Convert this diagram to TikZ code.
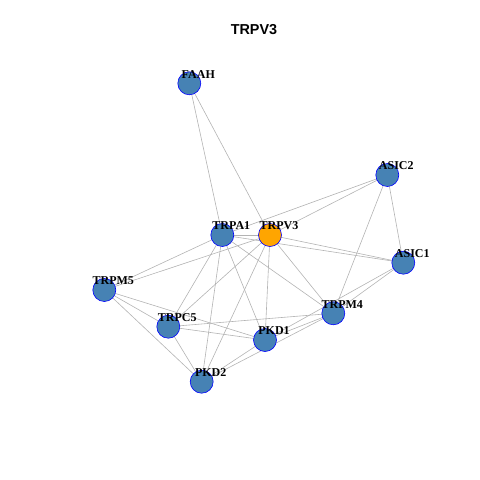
\documentclass[tikz,border=0pt]{standalone}
\usepackage{fontspec}
\setmainfont{Liberation Serif}
\newfontfamily\titlefont{Liberation Sans}
\usetikzlibrary{backgrounds}
\tikzset{
  vtx/.style={circle, draw=blue, line width=0.6pt, fill=steel, minimum size=23pt, inner sep=0pt},
  hub/.style={vtx, fill=hubor},
  lbl/.style={font=\fontsize{12}{12}\selectfont\bfseries, inner sep=0pt, text=black},
  edge/.style={draw=edgegray, line width=0.6pt}
}
\definecolor{steel}{HTML}{4682B4}
\definecolor{hubor}{HTML}{FFA500}
\definecolor{edgegray}{HTML}{B3B3B3}
\begin{document}
\begin{tikzpicture}[x=1pt,y=-1pt]
\useasboundingbox (0,0) rectangle (480,480);
\node[font=\titlefont\fontsize{14.4}{14.4}\selectfont\bfseries] (title) at (254,30) {TRPV3};
\node[vtx] (FAAH) at (189.3,83.3) {};
\node[vtx] (ASIC2) at (387.3,175) {};
\node[vtx] (TRPA1) at (222.3,235) {};
\node[hub] (TRPV3) at (270,235) {};
\node[vtx] (ASIC1) at (403.3,262.7) {};
\node[vtx] (TRPM5) at (104.3,290) {};
\node[vtx] (TRPM4) at (333.3,313.3) {};
\node[vtx] (TRPC5) at (168.3,326.7) {};
\node[vtx] (PKD1) at (265,340) {};
\node[vtx] (PKD2) at (201.7,381.7) {};
\foreach \n in {FAAH,ASIC2,TRPA1,TRPV3,ASIC1,TRPM5,TRPM4,TRPC5,PKD1,PKD2}{
  \node[lbl] (l\n) at ([xshift=9pt,yshift=9pt]\n.center) {\n};
}
\begin{pgfonlayer}{background}
\foreach \a/\b in {FAAH/TRPA1,FAAH/TRPV3,ASIC2/TRPA1,ASIC2/TRPV3,ASIC2/ASIC1,ASIC2/TRPM4,
  TRPA1/TRPV3,TRPA1/ASIC1,TRPV3/ASIC1,TRPA1/TRPM5,TRPV3/TRPM5,TRPA1/TRPC5,TRPA1/PKD2,TRPA1/PKD1,TRPA1/TRPM4,
  TRPV3/TRPC5,TRPV3/PKD2,TRPV3/PKD1,TRPV3/TRPM4,TRPM5/TRPC5,TRPM5/PKD1,TRPM5/PKD2,
  TRPC5/TRPM4,TRPC5/PKD1,TRPC5/PKD2,PKD1/TRPM4,PKD2/TRPM4,PKD2/PKD1,ASIC1/TRPM4,ASIC1/PKD1}{
  \draw[edge] (\a.center) -- (\b.center);
}
\end{pgfonlayer}
\end{tikzpicture}
\end{document}
